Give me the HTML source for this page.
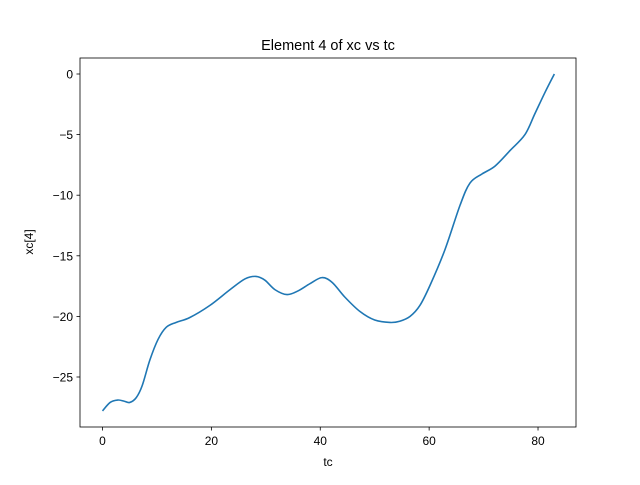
<!DOCTYPE html>
<html><head><meta charset="utf-8"><style>
body{margin:0;background:#fff;font-family:"Liberation Sans","DejaVu Sans",sans-serif}
</style></head><body>
<svg id="chart" width="640" height="480" xmlns="http://www.w3.org/2000/svg">
<rect width="640" height="480" fill="#fff"/>
<text x="328" y="50" text-anchor="middle" font-size="14.5">Element 4 of xc vs tc</text>
<g id="ticks"></g>
<path id="line" fill="none" stroke="#1f77b4" stroke-width="1.6"/>
<rect x="80" y="58" width="496" height="369" fill="none" stroke="#000" stroke-width="0.8"/>
<text x="328" y="466" text-anchor="middle" font-size="12">tc</text>
<text x="33" y="242" text-anchor="middle" font-size="12" transform="rotate(-90 33 242)">xc[4]</text>
</svg>
<script>
const tValues=[0,1.4,2.8,4,5,6.2,7.3,8.7,10.2,11.7,13.5,16,19.7,23.4,26.2,28.2,29.8,31.7,33.9,35.9,38.1,40.3,42.2,44.5,47.3,50,52.8,54.6,56.5,58.3,60.2,62.9,65.7,67.5,69.7,72.1,74.9,77.6,79.4,81.3,83];
const xcValues=[-27.8,-27.1,-26.9,-27,-27.1,-26.7,-25.7,-23.6,-21.9,-20.9,-20.5,-20.1,-19.1,-17.8,-16.9,-16.7,-17,-17.8,-18.2,-17.9,-17.3,-16.8,-17.2,-18.4,-19.6,-20.3,-20.5,-20.4,-20,-19.1,-17.4,-14.5,-10.8,-9,-8.25,-7.6,-6.3,-5,-3.3,-1.5,0];
const xTicks=[0,20,40,60,80];
const yTicks=[0,-5,-10,-15,-20,-25];
const xs=t=>102.5+t*5.444;
const ys=v=>74-v*12.12;
const NS="http://www.w3.org/2000/svg";
const g=document.getElementById('ticks');
function add(tag,attrs,text){const e=document.createElementNS(NS,tag);for(const k in attrs)e.setAttribute(k,attrs[k]);if(text!==undefined)e.textContent=text;g.appendChild(e);return e;}
xTicks.forEach(t=>{
 const l=add('line',{x1:xs(t),x2:xs(t),y1:427,y2:430.5,stroke:'#000','stroke-width':0.8});
 
 
 const tx=add('text',{x:xs(t),y:445,'text-anchor':'middle','font-size':12},String(t));
 
 
});
yTicks.forEach(v=>{
 const l=add('line',{x1:76.5,x2:80,y1:ys(v),y2:ys(v),stroke:'#000','stroke-width':0.8});
 
 
 const tx=add('text',{x:73,y:ys(v)+4.5,'text-anchor':'end','font-size':12},v===0?'0':'\u2212'+Math.abs(v));
 
 
});
const P=tValues.map((t,i)=>[xs(t),ys(xcValues[i])]);
let d='M'+P[0][0]+','+P[0][1];
for(let i=0;i<P.length-1;i++){
 const p0=P[Math.max(i-1,0)],p1=P[i],p2=P[i+1],p3=P[Math.min(i+2,P.length-1)];
 const c1=[p1[0]+(p2[0]-p0[0])/6,p1[1]+(p2[1]-p0[1])/6];
 const c2=[p2[0]-(p3[0]-p1[0])/6,p2[1]-(p3[1]-p1[1])/6];
 d+=` C${c1[0]},${c1[1]} ${c2[0]},${c2[1]} ${p2[0]},${p2[1]}`;
}
document.getElementById('line').setAttribute('d',d);
</script>
</body></html>
